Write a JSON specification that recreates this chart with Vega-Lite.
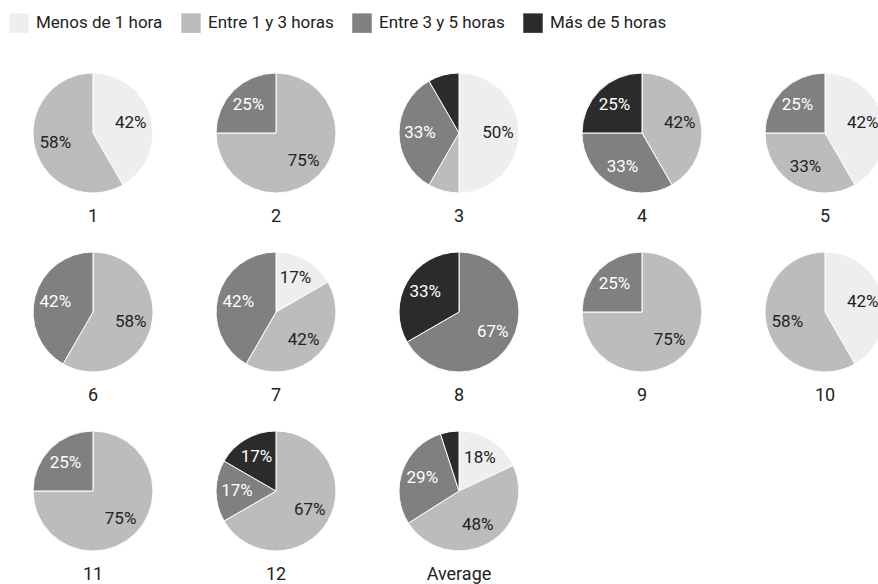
{
  "$schema": "https://vega.github.io/schema/vega-lite/v6.json",
  "background": "white",
  "padding": {"left": 9, "top": 13, "right": 5, "bottom": 2},
  "data": {"values": [
    {"q": "1", "cat": "Menos de 1 hora", "v": 0.4167},
    {"q": "1", "cat": "Entre 1 y 3 horas", "v": 0.5833},
    {"q": "2", "cat": "Entre 1 y 3 horas", "v": 0.75},
    {"q": "2", "cat": "Entre 3 y 5 horas", "v": 0.25},
    {"q": "3", "cat": "Menos de 1 hora", "v": 0.5},
    {"q": "3", "cat": "Entre 1 y 3 horas", "v": 0.0833},
    {"q": "3", "cat": "Entre 3 y 5 horas", "v": 0.3333},
    {"q": "3", "cat": "Más de 5 horas", "v": 0.0833},
    {"q": "4", "cat": "Entre 1 y 3 horas", "v": 0.4167},
    {"q": "4", "cat": "Entre 3 y 5 horas", "v": 0.3333},
    {"q": "4", "cat": "Más de 5 horas", "v": 0.25},
    {"q": "5", "cat": "Menos de 1 hora", "v": 0.4167},
    {"q": "5", "cat": "Entre 1 y 3 horas", "v": 0.3333},
    {"q": "5", "cat": "Entre 3 y 5 horas", "v": 0.25},
    {"q": "6", "cat": "Entre 1 y 3 horas", "v": 0.5833},
    {"q": "6", "cat": "Entre 3 y 5 horas", "v": 0.4167},
    {"q": "7", "cat": "Menos de 1 hora", "v": 0.1667},
    {"q": "7", "cat": "Entre 1 y 3 horas", "v": 0.4167},
    {"q": "7", "cat": "Entre 3 y 5 horas", "v": 0.4167},
    {"q": "8", "cat": "Entre 3 y 5 horas", "v": 0.6667},
    {"q": "8", "cat": "Más de 5 horas", "v": 0.3333},
    {"q": "9", "cat": "Entre 1 y 3 horas", "v": 0.75},
    {"q": "9", "cat": "Entre 3 y 5 horas", "v": 0.25},
    {"q": "10", "cat": "Menos de 1 hora", "v": 0.4167},
    {"q": "10", "cat": "Entre 1 y 3 horas", "v": 0.5833},
    {"q": "11", "cat": "Entre 1 y 3 horas", "v": 0.75},
    {"q": "11", "cat": "Entre 3 y 5 horas", "v": 0.25},
    {"q": "12", "cat": "Entre 1 y 3 horas", "v": 0.6667},
    {"q": "12", "cat": "Entre 3 y 5 horas", "v": 0.1667},
    {"q": "12", "cat": "Más de 5 horas", "v": 0.1667},
    {"q": "Average", "cat": "Menos de 1 hora", "v": 0.18},
    {"q": "Average", "cat": "Entre 1 y 3 horas", "v": 0.48},
    {"q": "Average", "cat": "Entre 3 y 5 horas", "v": 0.29},
    {"q": "Average", "cat": "Más de 5 horas", "v": 0.05}
  ]},
  "transform": [
    {"calculate": "indexof(['Menos de 1 hora','Entre 1 y 3 horas','Entre 3 y 5 horas','Más de 5 horas'], datum.cat)", "as": "o"}
  ],
  "facet": {
    "field": "q",
    "type": "nominal",
    "sort": ["1","2","3","4","5","6","7","8","9","10","11","12","Average"],
    "header": {"title": null, "labelOrient": "bottom", "labelFontSize": 18, "labelFont": "Roboto", "labelColor": "#222", "labelPadding": 10, "labelBaseline": "top"}
  },
  "columns": 5,
  "spacing": {"column": 15, "row": 21},
  "spec": {
    "width": 168,
    "height": 130,
    "encoding": {
      "theta": {"field": "v", "type": "quantitative", "stack": true},
      "order": {"field": "o", "type": "quantitative"}
    },
    "layer": [
      {
        "mark": {"type": "arc", "outerRadius": 60, "stroke": "white", "strokeWidth": 1},
        "encoding": {
          "color": {
            "field": "cat", "type": "nominal",
            "scale": {"domain": ["Menos de 1 hora","Entre 1 y 3 horas","Entre 3 y 5 horas","Más de 5 horas"], "range": ["#eeeeee","#bcbcbc","#808080","#2b2b2b"]},
            "legend": {"title": null, "orient": "top", "direction": "horizontal", "symbolType": "square", "symbolSize": 380, "symbolStrokeWidth": 0, "labelFontSize": 17, "labelFont": "Roboto", "labelColor": "#222", "columnPadding": 18, "labelOffset": 7, "offset": 35}
          }
        }
      },
      {
        "mark": {"type": "text", "radius": 39, "font": "Roboto", "fontSize": 17},
        "encoding": {
          "detail": {"field": "cat", "type": "nominal"},
          "text": {"field": "v", "type": "quantitative", "format": ".0%"},
          "color": {"condition": {"test": "datum.cat === 'Entre 3 y 5 horas' || datum.cat === 'Más de 5 horas'", "value": "white"}, "value": "#222"},
          "opacity": {"condition": {"test": "datum.v < 0.1", "value": 0}, "value": 1}
        }
      }
    ]
  },
  "config": {"view": {"stroke": null}}
}
